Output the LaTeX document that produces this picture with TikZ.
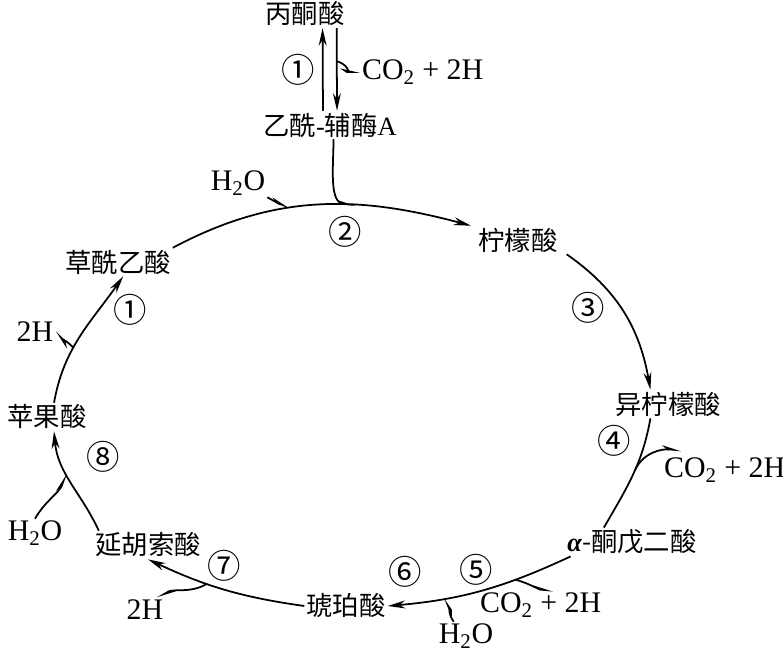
\documentclass[tikz,border=0pt]{standalone}
\usepackage{fontspec}
\setmainfont{Liberation Serif}
\newfontfamily\cjk{Noto Sans CJK SC}
\usepackage{tikz}
\usetikzlibrary{arrows.meta}

\begin{document}
\begin{tikzpicture}[
    x=0.2mm, y=0.2mm,
    font=\fontsize{17}{19}\selectfont,
    acid/.style={font=\cjk\fontsize{15}{18}\selectfont, inner sep=1pt},
    stepno/.style={font=\cjk\fontsize{19}{21}\selectfont, inner sep=0pt},
    side/.style={inner sep=1pt},
    jn/.style={coordinate},
    arr/.style={-{Stealth[length=10pt, width=4.5pt]}, line width=1pt},
    plain/.style={line width=1pt},
    barb/.style={-{Stealth[harpoon, length=9pt, width=4pt]}, line width=1pt},
  ]
    \useasboundingbox (0,0) rectangle (783,657);

    \node[acid] (pyr)  at (305,643) {丙酮酸};
    \node[acid] (acoa) at (330,532) {乙酰{\rmfamily -}辅酶{\rmfamily A}};
    \node[acid] (cit)  at (518,417) {柠檬酸};
    \node[acid] (icit) at (668,253) {异柠檬酸};
    \node[acid] (akg)  at (632,115) {{\rmfamily\bfseries\itshape α}-酮戊二酸};
    \node[acid] (suc)  at (346,51)  {琥珀酸};
    \node[acid] (fum)  at (148,112) {延胡索酸};
    \node[acid] (mal)  at (47,240)  {苹果酸};
    \node[acid] (oaa)  at (118,395) {草酰乙酸};

    \node[side, anchor=west] (co2a) at (360,585) {CO\textsubscript{2} + 2H};
    \node[side, anchor=west] (co2b) at (662,187) {CO\textsubscript{2} + 2H};
    \node[side, anchor=west] (co2c) at (478,52)  {CO\textsubscript{2} + 2H};
    \node[side] (h2oa) at (238,474) {H\textsubscript{2}O};
    \node[side] (h2oc) at (466,21)  {H\textsubscript{2}O};
    \node[side] (h2ob) at (35,124)  {H\textsubscript{2}O};
    \node[side] (h2c)  at (145,47)  {2H};
    \node[side] (h2b)  at (35,325)  {2H};

    \node[stepno] (s1a) at (298,587) {①};
    \node[stepno] (s2)  at (345,425) {②};
    \node[stepno] (s3)  at (588,349) {③};
    \node[stepno] (s4)  at (614,216) {④};
    \node[stepno] (s5)  at (476,87)  {⑤};
    \node[stepno] (s6)  at (405,85)  {⑥};
    \node[stepno] (s7)  at (224,91)  {⑦};
    \node[stepno] (s8)  at (103,200) {⑧};
    \node[stepno] (s1)  at (130,347) {①};

    \draw[arr]   ([xshift=-4pt]acoa.north) -- ([xshift=10pt]pyr.south);
    \draw[arr]   ([xshift=18pt]pyr.south)  -- node[jn, pos=.4] (j1) {} ([xshift=4pt]acoa.north);
    \draw[barb]  (j1) to[out=-15, in=180] (co2a.west);

    \draw[arr]   (oaa.north east) to[out=28, in=165]
                 node[jn, pos=.4] (jw) {} node[jn, pos=.63] (j2) {}
                 ([xshift=-3pt]cit.north west);
    \draw[barb]  ([xshift=2pt]acoa.south) to[out=-90, in=175] (j2);
    \draw[barb]  (h2oa.south east) to[out=-30, in=160] (jw);

    \draw[arr]   ([xshift=4pt]cit.south east) to[out=-35, in=100] ([xshift=-10pt]icit.north);

    \draw[plain] ([xshift=-10pt]icit.south) to[out=-100, in=60]
                 node[jn, pos=.45] (j4) {} ([xshift=-16pt]akg.north);
    \draw[barb]  (j4) to[out=65, in=175] ([xshift=11pt, yshift=3pt]co2b.north west);

    \draw[arr]   ([xshift=3pt]akg.south west) to[out=-155, in=5]
                 node[jn, pos=.3] (j5) {} node[jn, pos=.72] (j6) {} (suc.east);
    \draw[barb]  (j5) to[out=-15, in=175] ([xshift=7pt]co2c.north);
    \draw[barb]  ([xshift=-7pt]h2oc.north) to[out=125, in=-55] (j6);

    \draw[arr]   (suc.west) to[out=172, in=-25] node[jn, pos=.62] (j7) {} (fum.south);
    \draw[barb]  (j7) to[out=-150, in=30] ([xshift=7pt]h2c.north);

    \draw[arr]   ([xshift=-28pt]fum.north) to[out=115, in=-85]
                 node[jn, pos=.6] (j8) {} ([xshift=4pt]mal.south);
    \draw[barb]  (h2ob.north) to[out=60, in=-110] (j8);

    \draw[arr]   ([xshift=4pt]mal.north) to[out=80, in=-125]
                 node[jn, pos=.4] (j9) {} ([xshift=3pt]oaa.south);
    \draw[barb]  (j9) to[out=135, in=-45] (h2b.east);
  \end{tikzpicture}
\end{document}
